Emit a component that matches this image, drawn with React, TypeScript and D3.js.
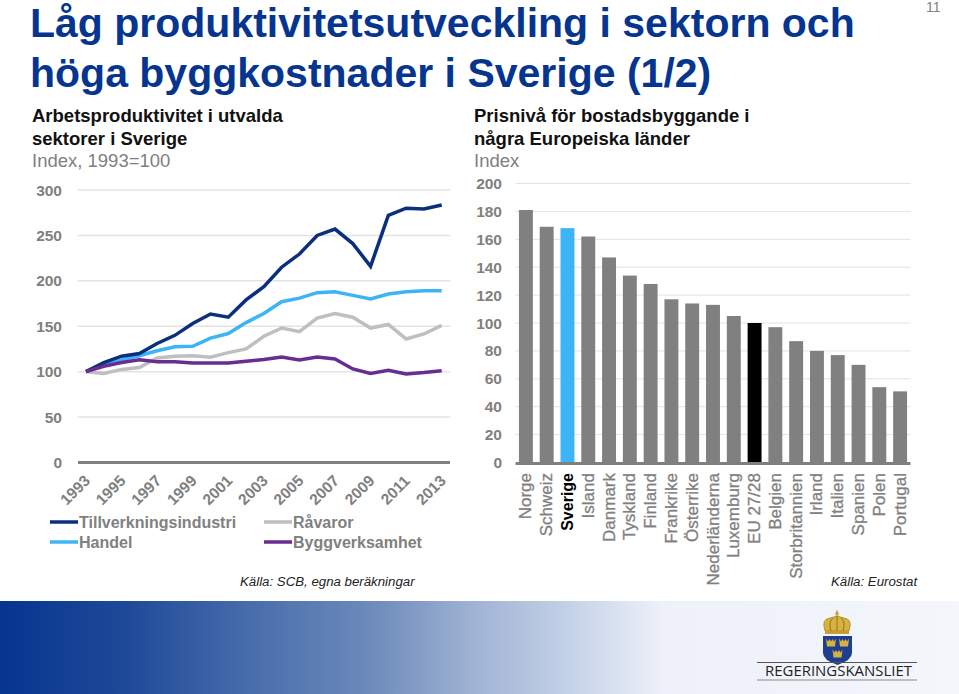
import React from "react";
import * as d3 from "d3";

const years = d3.range(1993, 2014);
const tillverkning = [100,110,117,120,131,140,153,163.5,160,179,193.5,215,229.5,250,257,241,216,272,280,279,283.5];
const handel = [100,108,113,117.5,123,127.5,128,137,142,154,164,177,181,187,188,184,180,185.5,188,189,189];
const ravaror = [100,98,102.5,104.5,115,117,117.5,116,121,125,139,148,144,159,164,160,148,152,136,141.5,151];
const bygg = [100,106,110,113,111,111,109.5,109.5,109.5,111.5,113.5,116,113,116,114,103,98,101.5,97.5,99,101];
const lineTicks = [0,50,100,150,200,250,300];
const yearLabels = [1993,1995,1997,1999,2001,2003,2005,2007,2009,2011,2013];

const countries = ["Norge","Schweiz","Sverige","Island","Danmark","Tyskland","Finland","Frankrike","Österrike","Nederländerna","Luxemburg","EU 27/28","Belgien","Storbritannien","Irland","Italien","Spanien","Polen","Portugal"];
const prices = [181,169,168,162,147,134,128,117,114,113,105,100,97,87,80,77,70,54,51];
const barTicks = [0,20,40,60,80,100,120,140,160,180,200];

const NAVY = "#0b2f7f", SKY = "#3db4f5", SILVER = "#bfbfbf", PURPLE = "#6a2c91", GREY = "#808080", TITLE = "#063590";
const FONT = "'Liberation Sans', Arial, sans-serif";

const lineSeries = [
  { name: "Råvaror", values: ravaror, color: SILVER },
  { name: "Handel", values: handel, color: SKY },
  { name: "Tillverkningsindustri", values: tillverkning, color: NAVY },
  { name: "Byggverksamhet", values: bygg, color: PURPLE },
];
const legendItems = [
  { name: "Tillverkningsindustri", color: NAVY, x: 50, y: 522 },
  { name: "Handel", color: SKY, x: 50, y: 542 },
  { name: "Råvaror", color: SILVER, x: 264, y: 522 },
  { name: "Byggverksamhet", color: PURPLE, x: 264, y: 542 },
];

const Mini = ({ x, y }: { x: number; y: number }) => (
  <path transform={`translate(${x},${y})`} d="M0 0 L2 3 L3.5 0.5 L5 3 L6.5 0.5 L8 3 L10 0 L9 8 H1 Z" fill="#d8b23e" />
);

export default function App() {
  const xL = d3.scalePoint<number>().domain(years).range([86, 441.7]);
  const yL = d3.scaleLinear().domain([0, 300]).range([462.5, 190]);
  const line = d3.line<number>().x((_, i) => xL(years[i])!).y((d) => yL(d));

  const xB = d3.scaleBand<string>().domain(countries).range([515.5, 910.5]).paddingInner(0.33).paddingOuter(0.165);
  const yB = d3.scaleLinear().domain([0, 200]).range([462.5, 183.5]);

  return (
    <svg width={959} height={694} viewBox="0 0 959 694" style={{ position: "absolute", left: 0, top: 0, background: "#fff" }} fontFamily={FONT}>
      <defs>
        <linearGradient id="band" x1="0" x2="959" y1="0" y2="0" gradientUnits="userSpaceOnUse">
          <stop offset={0} stopColor="#063590" />
          <stop offset={128 / 959} stopColor="#1f4a98" />
          <stop offset={255 / 959} stopColor="#4a6ead" />
          <stop offset={370 / 959} stopColor="#6c8abb" />
          <stop offset={475 / 959} stopColor="#a0b3d4" />
          <stop offset={561 / 959} stopColor="#c0cfe5" />
          <stop offset={663 / 959} stopColor="#eef1fa" />
          <stop offset={1} stopColor="#f4f6fb" />
        </linearGradient>
      </defs>
      <text x={30} y={37} fontSize={41} fontWeight={700} fill={TITLE}>Låg produktivitetsutveckling i sektorn och</text>
      <text x={30} y={87} fontSize={41} fontWeight={700} fill={TITLE}>höga byggkostnader i Sverige (1/2)</text>
      <text x={926} y={12} fontSize={14} fill={GREY}>11</text>

      <text x={32} y={122} fontSize={18.5} fontWeight={700} fill="#111">Arbetsproduktivitet i utvalda</text>
      <text x={32} y={145} fontSize={18.5} fontWeight={700} fill="#111">sektorer i Sverige</text>
      <text x={32} y={167} fontSize={18.5} fill={GREY}>Index, 1993=100</text>

      {lineTicks.map((t) => (
        <g key={t}>
          {t > 0 && <line x1={78} x2={450} y1={yL(t)} y2={yL(t)} stroke="#e3e3e3" strokeWidth={1.5} />}
          <text x={62} y={yL(t) + 5.5} textAnchor="end" fontSize={15.5} fontWeight={700} fill={GREY}>{t}</text>
        </g>
      ))}
      <line x1={78} x2={450} y1={yL(0)} y2={yL(0)} stroke={GREY} strokeWidth={3} />
      {lineSeries.map((s) => (
        <path key={s.name} d={line(s.values) ?? ""} fill="none" stroke={s.color} strokeWidth={3.5} strokeLinejoin="miter" />
      ))}
      {yearLabels.map((y) => (
        <text key={y} transform={`translate(${xL(y)! - 11},${490}) rotate(-45)`} textAnchor="middle" dominantBaseline="central" fontSize={15.5} fontWeight={700} fill={GREY}>{y}</text>
      ))}
      {legendItems.map((l) => (
        <g key={l.name}>
          <line x1={l.x} x2={l.x + 28} y1={l.y} y2={l.y} stroke={l.color} strokeWidth={3.5} />
          <text x={l.x + 29} y={l.y + 5.5} fontSize={16} fontWeight={700} fill={GREY}>{l.name}</text>
        </g>
      ))}
      <text x={240} y={586} fontSize={13.25} fontStyle="italic" fill="#222">Källa: SCB, egna beräkningar</text>

      <text x={474} y={122} fontSize={18.5} fontWeight={700} fill="#111">Prisnivå för bostadsbyggande i</text>
      <text x={474} y={145} fontSize={18.5} fontWeight={700} fill="#111">några Europeiska länder</text>
      <text x={474} y={167} fontSize={18.5} fill={GREY}>Index</text>

      {barTicks.map((t) => (
        <g key={t}>
          {t > 0 && <line x1={515.5} x2={910.5} y1={yB(t)} y2={yB(t)} stroke="#e3e3e3" strokeWidth={1} />}
          <text x={502} y={yB(t) + 5.5} textAnchor="end" fontSize={15.5} fontWeight={700} fill={GREY}>{t}</text>
        </g>
      ))}
      {countries.map((c, i) => (
        <rect key={c} x={xB(c)} y={yB(prices[i])} width={xB.bandwidth()} height={yB(0) - yB(prices[i])}
          fill={c === "Sverige" ? SKY : c === "EU 27/28" ? "#000" : GREY} />
      ))}
      <line x1={515.5} x2={910.5} y1={yB(0) + 1} y2={yB(0) + 1} stroke={GREY} strokeWidth={3} />
      {countries.map((c) => (
        <text key={c} transform={`translate(${xB(c)! + xB.bandwidth() / 2},${473}) rotate(-90)`} textAnchor="end" dominantBaseline="central"
          fontSize={c === "Sverige" ? 16 : 17} fontWeight={c === "Sverige" ? 700 : 400} fill={c === "Sverige" ? "#000" : GREY} stroke={c === "Sverige" ? "none" : GREY} strokeWidth={0.3}>{c}</text>
      ))}
      <text x={831} y={586} fontSize={13.25} fontStyle="italic" fill="#222">Källa: Eurostat</text>

      <rect x={0} y={601} width={959} height={93} fill="url(#band)" />

      <g>
        <path d="M825 631 Q821 619 830 618 Q834 617 837 616 Q840 617 844 618 Q853 619 849 631 Z" fill="#d8b23e" stroke="#a8862a" strokeWidth={0.8} />
        <path d="M831 631 Q828 622 833 618 M837 631 V616 M843 631 Q846 622 841 618" fill="none" stroke="#8f7222" strokeWidth={1} />
        <circle cx={837} cy={614} r={2} fill="#d8b23e" />
        <rect x={836.3} y={610.5} width={1.4} height={3} fill="#b8902a" />
        <rect x={825} y={631} width={24} height={3} fill="#c79f32" />
        <path d="M823 636 H852 V653 Q852 660 837.5 665 Q823 660 823 653 Z" fill="#1d3f8f" />
        <Mini x={826} y={638.5} />
        <Mini x={839} y={638.5} />
        <Mini x={832.5} y={649.5} />
        <line x1={757} x2={917} y1={662.5} y2={662.5} stroke="#555" strokeWidth={1} />
        <line x1={757} x2={917} y1={680} y2={680} stroke="#888" strokeWidth={1} />
        <text x={765} y={676} fontSize={14} textLength={147} lengthAdjust="spacingAndGlyphs" fill="#222" fontFamily="'Open Sans', sans-serif">REGERINGSKANSLIET</text>
      </g>
    </svg>
  );
}
